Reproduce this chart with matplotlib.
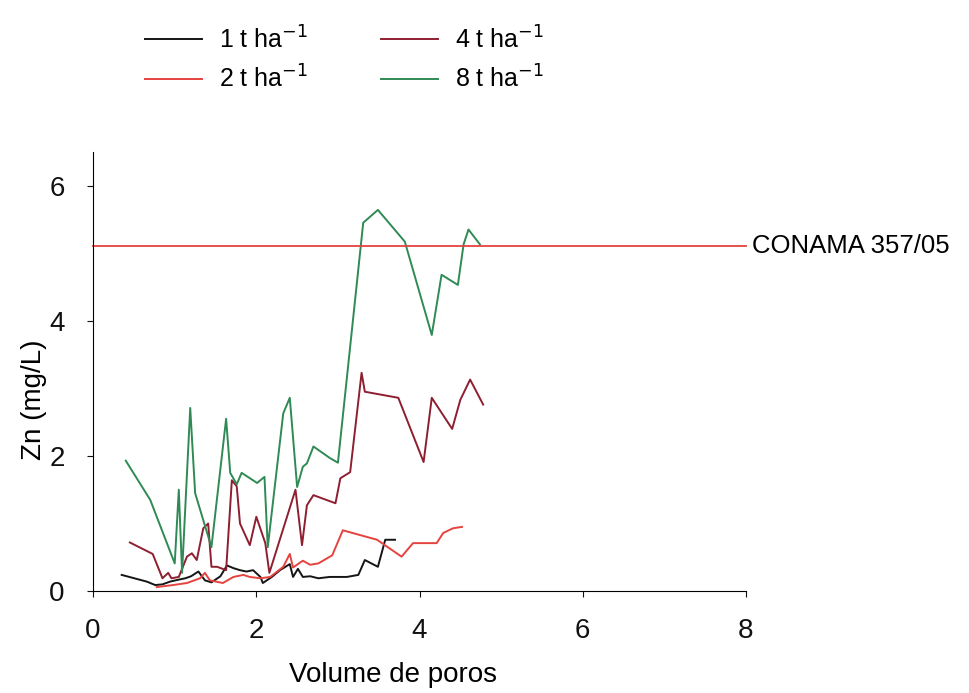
import numpy as np
import matplotlib
matplotlib.use("Agg")
import matplotlib.pyplot as plt

plt.rcParams['font.family'] = ['Liberation Sans', 'DejaVu Sans']

# Zn in leachate vs pore volumes, per sludge dose
x_1t = [0.35, 0.66, 0.76, 0.85, 0.94, 1.05, 1.13, 1.20, 1.29, 1.37, 1.45, 1.56, 1.64, 1.72,
        1.80, 1.88, 1.96, 2.05, 2.08, 2.19, 2.29, 2.41, 2.45, 2.51, 2.57, 2.66, 2.76, 2.90,
        3.11, 3.25, 3.33, 3.49, 3.58, 3.70]
y_1t = [0.24, 0.14, 0.09, 0.10, 0.14, 0.17, 0.19, 0.22, 0.29, 0.16, 0.13, 0.22, 0.38, 0.34,
        0.31, 0.29, 0.31, 0.21, 0.12, 0.21, 0.31, 0.40, 0.21, 0.33, 0.21, 0.22, 0.19, 0.21,
        0.21, 0.24, 0.46, 0.36, 0.76, 0.76]

x_2t = [0.78, 0.98, 1.15, 1.31, 1.37, 1.43, 1.59, 1.72, 1.84, 1.92, 2.05, 2.17, 2.33, 2.41,
        2.45, 2.57, 2.66, 2.76, 2.93, 3.06, 3.48, 3.78, 3.92, 4.21, 4.29, 4.41, 4.52]
y_2t = [0.06, 0.09, 0.12, 0.19, 0.27, 0.16, 0.12, 0.21, 0.24, 0.21, 0.19, 0.21, 0.36, 0.55,
        0.35, 0.45, 0.39, 0.41, 0.53, 0.90, 0.76, 0.51, 0.71, 0.71, 0.86, 0.93, 0.95]

x_4t = [0.45, 0.73, 0.85, 0.92, 0.96, 1.05, 1.15, 1.21, 1.27, 1.35, 1.41, 1.45, 1.52, 1.63,
        1.70, 1.76, 1.80, 1.92, 2.00, 2.11, 2.16, 2.48, 2.56, 2.62, 2.70, 2.97, 3.03, 3.15,
        3.29, 3.33, 3.74, 4.05, 4.15, 4.40, 4.50, 4.62, 4.78]
y_4t = [0.72, 0.55, 0.19, 0.27, 0.19, 0.21, 0.51, 0.56, 0.46, 0.93, 1.00, 0.36, 0.36, 0.31,
        1.64, 1.55, 1.00, 0.68, 1.10, 0.71, 0.27, 1.50, 0.68, 1.27, 1.42, 1.30, 1.67, 1.76,
        3.23, 2.95, 2.86, 1.91, 2.86, 2.40, 2.83, 3.13, 2.76]

x_8t = [0.40, 0.70, 1.00, 1.05, 1.09, 1.19, 1.25, 1.45, 1.63, 1.68, 1.76, 1.82, 2.01, 2.10,
        2.14, 2.33, 2.41, 2.50, 2.57, 2.62, 2.70, 2.90, 3.00, 3.31, 3.49, 3.82, 4.15, 4.27,
        4.47, 4.54, 4.60, 4.74]
y_8t = [1.93, 1.35, 0.41, 1.50, 0.27, 2.71, 1.45, 0.65, 2.55, 1.75, 1.58, 1.75, 1.60, 1.69,
        0.65, 2.63, 2.86, 1.54, 1.84, 1.89, 2.14, 1.97, 1.90, 5.45, 5.64, 5.17, 3.79, 4.68,
        4.53, 5.13, 5.35, 5.13]

labels = ['1 t ha$^{-1}$', '2 t ha$^{-1}$', '4 t ha$^{-1}$', '8 t ha$^{-1}$']
colors = ['#151515', '#e5433f', '#8e1f30', '#2f8a55']
limite = 5.1
limite_txt = 'CONAMA 357/05'

fig = plt.figure(figsize=(9.7, 6.93), dpi=100)
ax = fig.add_axes([0.096, 0.147, 0.673, 0.634])

series = [(x_1t, y_1t), (x_2t, y_2t), (x_4t, y_4t), (x_8t, y_8t)]
for (xs, ys), lab, c in zip(series, labels, colors):
    ax.plot(xs, ys, color=c, lw=1.4, label=lab)

# limite da resolucao, estendido ate o fim do eixo
ax.plot([0, 8], [limite, limite], color='#e5433f', lw=1.3, clip_on=False)
ax.text(8.08, limite, limite_txt, fontsize=18.5, va='center', ha='left')

ax.set_xlim(0, 8)
ax.set_ylim(0, 6.5)
ax.set_xticks([0, 2, 4, 6, 8])
ax.set_yticks([0, 2, 4, 6])
ax.spines['top'].set_visible(False)
ax.spines['right'].set_visible(False)
ax.tick_params(direction='out', length=4.5, labelsize=20, colors='#111111')
ax.tick_params(axis='x', pad=15)
ax.tick_params(axis='y', pad=16)
ax.set_xlabel('Volume de poros', fontsize=20)
ax.set_ylabel('Zn (mg/L)', fontsize=20)
ax.xaxis.set_label_coords(0.459, -0.162)
ax.yaxis.set_label_coords(-0.07, 0.435)

fig.legend(loc='upper left', bbox_to_anchor=(0.126, 0.995), ncol=2, frameon=False,
           fontsize=18, handlelength=2.3, handletextpad=0.68, columnspacing=2.9,
           labelspacing=0.5)

fig.savefig('out.png', dpi=100)
